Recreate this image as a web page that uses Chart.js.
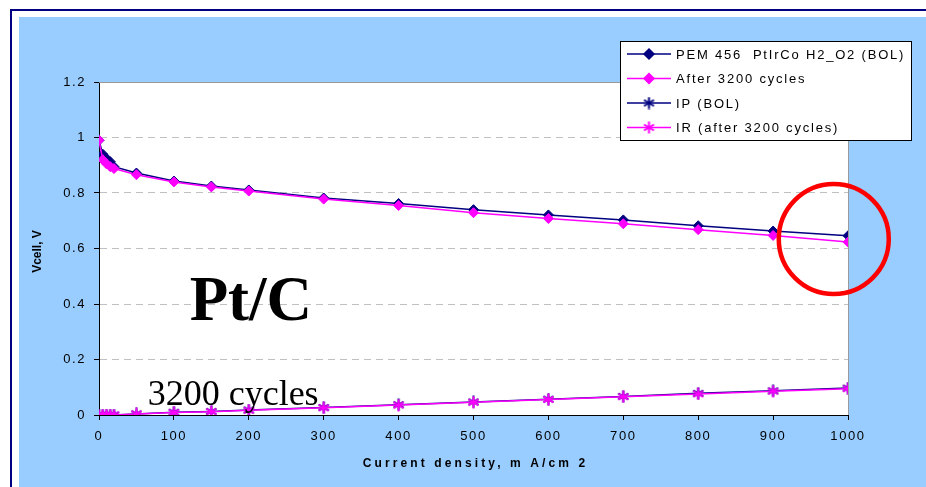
<!DOCTYPE html>
<html>
<head>
<meta charset="utf-8">
<script src="https://cdn.jsdelivr.net/npm/chart.js@4/dist/chart.umd.min.js"></script>
<style>
  html, body { margin: 0; padding: 0; background: #fff; overflow: hidden; }
  canvas { display: block; }
</style>
</head>
<body>
<canvas id="polCurve" width="926" height="487"></canvas>
<script>
// polarisation data, current density in mA/cm2
const currents   = [0, 5, 10, 15, 20, 50, 100, 150, 200, 300, 400, 500, 600, 700, 800, 900, 1000];
const vcellBol   = [0.99, 0.94, 0.925, 0.913, 0.895, 0.872, 0.843, 0.825, 0.811, 0.782, 0.762, 0.740, 0.721, 0.703, 0.682, 0.663, 0.646];
const vcellAfter = [0.99, 0.92, 0.905, 0.895, 0.888, 0.866, 0.840, 0.822, 0.807, 0.778, 0.755, 0.729, 0.708, 0.689, 0.668, 0.647, 0.623];
const irBol      = [0, 0, 0, 0, 0, 0.004, 0.010, 0.013, 0.018, 0.027, 0.037, 0.047, 0.057, 0.067, 0.078, 0.087, 0.097];
const irAfter    = [0, 0, 0, 0, 0, 0.004, 0.009, 0.012, 0.017, 0.026, 0.036, 0.046, 0.056, 0.066, 0.076, 0.086, 0.095];

const seriesNames = ['PEM 456  PtIrCo H2_O2 (BOL)', 'After 3200 cycles', 'IP (BOL)', 'IR (after 3200 cycles)'];
const xTicks = [0, 100, 200, 300, 400, 500, 600, 700, 800, 900, 1000];
const xTickLabels = ['0', '100', '200', '300', '400', '500', '600', '700', '800', '900', '1000'];
const yTicks = [0, 0.2, 0.4, 0.6, 0.8, 1, 1.2];
const yTickLabels = ['0', '0.2', '0.4', '0.6', '0.8', '1', '1.2'];

const NAVY = '#000080';
const PINK = '#ff00ff';
const SANS = "'Liberation Sans', Arial, sans-serif";
const SERIF = "'Liberation Serif', 'Times New Roman', serif";

// six-armed asterisk marker
const makeStar = (color) => {
  const c = document.createElement('canvas');
  c.width = 13; c.height = 13;
  const g = c.getContext('2d');
  g.strokeStyle = color;
  g.lineWidth = 2;
  g.beginPath();
  g.moveTo(6.5, 0.5); g.lineTo(6.5, 12.5);
  g.moveTo(1.5, 3.5); g.lineTo(11.5, 9.5);
  g.moveTo(1.5, 9.5); g.lineTo(11.5, 3.5);
  g.stroke();
  return c;
};

const series = (label, ys, color, style, radius, order) => ({
  label,
  data: currents.map((x, i) => ({ x, y: ys[i] })),
  borderColor: color,
  backgroundColor: color,
  borderWidth: 1.5,
  pointStyle: style,
  pointRadius: radius,
  pointBorderWidth: 1,
  pointBackgroundColor: color,
  pointBorderColor: color,
  tension: 0,
  order
});

const datasets = [
  series(seriesNames[0], vcellBol, NAVY, 'rectRot', 5, 3),
  series(seriesNames[1], vcellAfter, PINK, 'rectRot', 5, 2),
  series(seriesNames[2], irBol, NAVY, makeStar(NAVY), 5, 1),
  series(seriesNames[3], irAfter, PINK, makeStar(PINK), 5, 0)
];

const frame = {
  id: 'frame',
  beforeDraw(chart) {
    const { ctx, chartArea: a } = chart;
    const W = ctx.canvas.width, H = ctx.canvas.height;
    ctx.save();
    ctx.fillStyle = '#fff';
    ctx.fillRect(0, 0, W, H);
    ctx.fillStyle = NAVY;
    ctx.fillRect(10, 9, W, 2);
    ctx.fillRect(10, 9, 2, H);
    ctx.fillStyle = '#99ccff';
    ctx.fillRect(19, 17, W, H);
    ctx.fillStyle = '#fff';
    ctx.fillRect(a.left, a.top, a.right - a.left, a.bottom - a.top);
    ctx.restore();
    ctx.letterSpacing = '1.6px';
  },
  afterDraw(chart) {
    const { ctx, chartArea: a, scales } = chart;
    const xs = scales.x, ys = scales.y;
    ctx.save();

    // plot area edge, top and right
    ctx.strokeStyle = '#9a9a9a';
    ctx.lineWidth = 1;
    ctx.beginPath();
    ctx.moveTo(a.left, a.top + 0.5);
    ctx.lineTo(a.right + 0.5, a.top + 0.5);
    ctx.lineTo(a.right + 0.5, a.bottom);
    ctx.stroke();

    // axis titles
    ctx.fillStyle = '#000';
    ctx.font = 'bold 12px ' + SANS;
    ctx.textAlign = 'center';
    ctx.textBaseline = 'middle';
    ctx.letterSpacing = '0px';
    ctx.save();
    ctx.translate(38, (a.top + a.bottom) / 2 + 3);
    ctx.rotate(-Math.PI / 2);
    ctx.fillText('Vcell, V', 0, 0);
    ctx.restore();
    ctx.letterSpacing = '3.1px';
    ctx.fillText('Current density, m A/cm 2', (a.left + a.right) / 2 + 2, 464);

    // annotations
    ctx.letterSpacing = '0px';
    ctx.textAlign = 'left';
    ctx.textBaseline = 'alphabetic';
    ctx.font = 'bold 63px ' + SERIF;
    ctx.fillText('Pt/C', xs.getPixelForValue(121), ys.getPixelForValue(0.342));
    ctx.font = '36px ' + SERIF;
    ctx.fillText('3200 cycles', xs.getPixelForValue(65), ys.getPixelForValue(0.036));

    // highlight around the 1000 mA/cm2 point
    ctx.strokeStyle = '#ff0000';
    ctx.lineWidth = 4.5;
    ctx.beginPath();
    ctx.arc(xs.getPixelForValue(981), ys.getPixelForValue(0.634), 55, 0, Math.PI * 2);
    ctx.stroke();

    // legend
    const lx = 620, ly = 41, lw = 291, lh = 99;
    ctx.fillStyle = '#fff';
    ctx.fillRect(lx, ly, lw, lh);
    ctx.strokeStyle = '#000';
    ctx.lineWidth = 1;
    ctx.strokeRect(lx + 0.5, ly + 0.5, lw, lh);
    ctx.font = '13px ' + SANS;
    ctx.letterSpacing = '1.8px';
    ctx.textBaseline = 'middle';
    chart.data.datasets.forEach((d, i) => {
      const y = ly + 13 + i * 24.5;
      ctx.strokeStyle = d.borderColor;
      ctx.lineWidth = 1.5;
      ctx.beginPath();
      ctx.moveTo(lx + 7, y);
      ctx.lineTo(lx + 51, y);
      ctx.stroke();
      ctx.fillStyle = d.borderColor;
      Chart.helpers.drawPoint(ctx, {
        pointStyle: d.pointStyle, radius: d.pointRadius, rotation: 0, borderWidth: 1
      }, lx + 29, y);
      ctx.fillStyle = '#000';
      ctx.fillText(d.label, lx + 56, y + 1);
    });
    ctx.restore();
  }
};

new Chart(document.getElementById('polCurve'), {
  type: 'line',
  data: { datasets },
  options: {
    responsive: false,
    animation: false,
    layout: { padding: { left: 0, top: 82, right: 78, bottom: 0 } },
    plugins: { legend: { display: false }, tooltip: { enabled: false } },
    scales: {
      x: {
        type: 'linear',
        min: 0,
        max: 1000,
        afterBuildTicks: (s) => { s.ticks = xTicks.map((v) => ({ value: v })); },
        afterFit: (s) => { s.height = 72; },
        ticks: {
          color: '#000', font: { family: SANS, size: 13 }, padding: 9, maxRotation: 0,
          callback: (v, i) => xTickLabels[i]
        },
        grid: { drawOnChartArea: false, drawTicks: true, tickLength: 5, tickColor: '#000' },
        border: { color: '#000', width: 1 }
      },
      y: {
        min: 0,
        max: 1.2,
        afterBuildTicks: (s) => { s.ticks = yTicks.map((v) => ({ value: v })); },
        afterFit: (s) => { s.width = 99; },
        ticks: {
          color: '#000', font: { family: SANS, size: 13 }, padding: 8,
          callback: (v, i) => yTickLabels[i]
        },
        grid: { color: '#c0c0c0', lineWidth: 1, tickLength: 5, tickColor: '#000' },
        border: { color: '#000', width: 1, dash: [7, 5] }
      }
    }
  },
  plugins: [frame]
});
</script>
</body>
</html>
